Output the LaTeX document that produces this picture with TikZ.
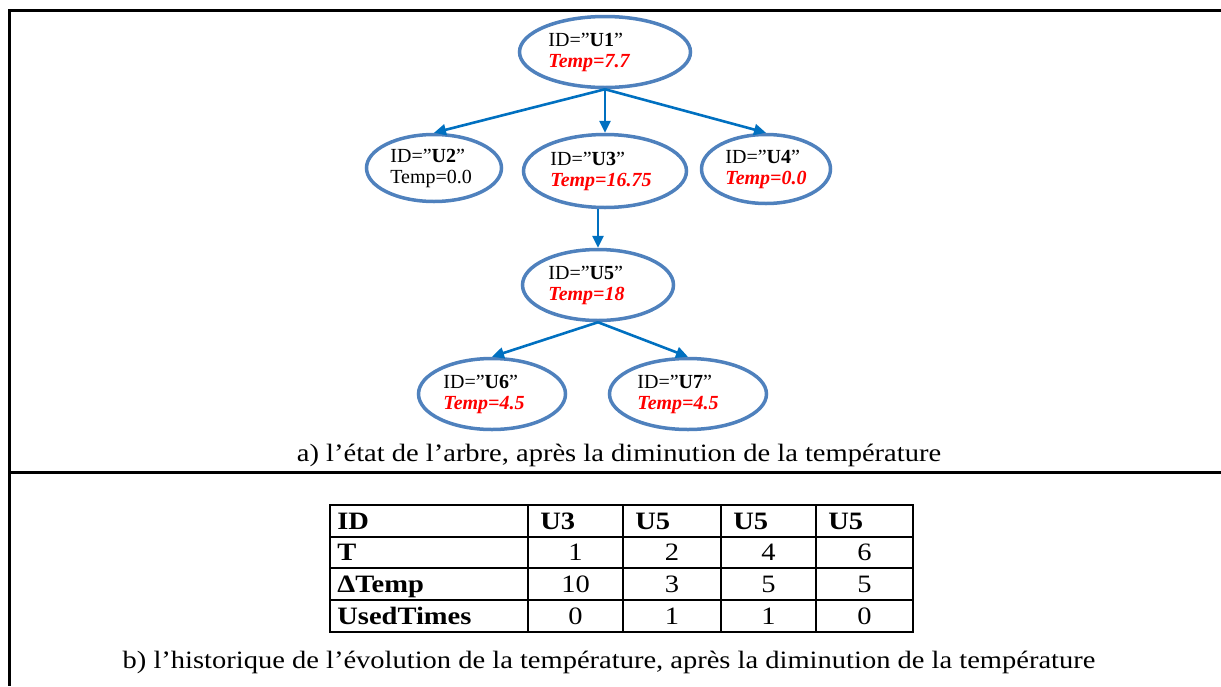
\documentclass[tikz,border=0pt]{standalone}
\usepackage{fontspec}
\setmainfont{Liberation Serif}
\newfontfamily\capfont[FakeStretch=1.14]{Liberation Serif}
\usetikzlibrary{shapes.geometric,arrows.meta}
\definecolor{nodeblue}{RGB}{79,129,189}
\definecolor{linkblue}{RGB}{0,112,192}
\newcommand{\hot}[1]{\textcolor{red}{\textbf{\textit{#1}}}}
\tikzset{
  unode/.style={ellipse, draw=nodeblue, line width=1.75pt, inner sep=0pt},
  utext/.style={anchor=west, align=left, inner sep=0pt, font=\fontsize{10pt}{10.5pt}\selectfont},
  link/.style={draw=linkblue, line width=1.3pt, -{Triangle[length=6pt,width=5.5pt]}},
  cell/.style={anchor=base, inner sep=0pt, font=\capfont\fontsize{12.5pt}{15pt}\selectfont},
  rule/.style={line width=1pt},
}

\begin{document}
\begin{tikzpicture}[x=0.5pt, y=-0.5pt]
\useasboundingbox (0,0) rectangle (1221,686);
% Frame
\draw[line width=1.5pt] (1221,10) -- (9,10) -- (9,686);
\draw[line width=1.5pt] (9,472) -- (1221,472);
% Tree nodes
\node[unode, minimum width=85.5pt, minimum height=35.5pt] (u1) at (605,52) {};
\node[unode, minimum width=67.5pt, minimum height=33.5pt] (u2) at (434,168) {};
\node[unode, minimum width=81.5pt, minimum height=36.5pt] (u3) at (605,171) {};
\node[unode, minimum width=64.5pt, minimum height=34.5pt] (u4) at (766,169) {};
\node[unode, minimum width=75.5pt, minimum height=35.5pt] (u5) at (598,285) {};
\node[unode, minimum width=73.5pt, minimum height=35.5pt] (u6) at (492,394) {};
\node[unode, minimum width=78.5pt, minimum height=35.5pt] (u7) at (688,394) {};
% Node texts
\node[utext, xshift=-28.5pt] (t1) at (u1) {ID="\textbf{U1}"\\\hot{Temp=7.7}};
\node[utext, xshift=-22pt] (t2) at (u2) {ID="\textbf{U2}"\\Temp=0.0};
\node[utext, xshift=-27.5pt] (t3) at (u3) {ID="\textbf{U3}"\\\hot{Temp=16.75}};
\node[utext, xshift=-20.5pt] (t4) at (u4) {ID="\textbf{U4}"\\\hot{Temp=0.0}};
\node[utext, xshift=-25pt] (t5) at (u5) {ID="\textbf{U5}"\\\hot{Temp=18}};
\node[utext, xshift=-24.5pt] (t6) at (u6) {ID="\textbf{U6}"\\\hot{Temp=4.5}};
\node[utext, xshift=-25.5pt] (t7) at (u7) {ID="\textbf{U7}"\\\hot{Temp=4.5}};
% Links
\draw[link] (u1.south) -- (u2.north);
\draw[link] (u1.south) -- (u3.north);
\draw[link] (u1.south) -- (u4.north);
\draw[link] (u5.north |- u3.south) -- (u5.north);
\draw[link] (u5.south) -- (u6.north);
\draw[link] (u5.south) -- (u7.north);
\node[cell] (capa) at (619,461) {a) l’état de l’arbre, après la diminution de la température};
% Table
\draw[rule] (330,505) rectangle (913,632);
\foreach \y in {537,568,600} \draw[rule] (330,\y) -- (913,\y);
\foreach \x in {528,623,721,816} \draw[rule] (\x,505) -- (\x,632);
\node[cell, anchor=base west] (hid) at (337,529) {\textbf{ID}};
\node[cell, anchor=base west] (ht) at (337,560) {\textbf{T}};
\node[cell, anchor=base west] (hdt) at (337,592) {\textbf{ΔTemp}};
\node[cell, anchor=base west] (hut) at (337,624) {\textbf{UsedTimes}};
\foreach \x/\v [count=\i] in {540/U3,635/U5,733/U5,828/U5}
  \node[cell, anchor=base west] (id\i) at (\x,529) {\textbf{\v}};
\foreach \x/\v [count=\i] in {575.5/1,672/2,768.5/4,864.5/6}
  \node[cell] (tt\i) at (\x,560) {\v};
\foreach \x/\v [count=\i] in {575.5/10,672/3,768.5/5,864.5/5}
  \node[cell] (dt\i) at (\x,592) {\v};
\foreach \x/\v [count=\i] in {575.5/0,672/1,768.5/1,864.5/0}
  \node[cell] (ut\i) at (\x,624) {\v};
\node[cell] (capb) at (609,668) {b) l’historique de l’évolution de la température, après la diminution de la température};
\end{tikzpicture}
\end{document}
